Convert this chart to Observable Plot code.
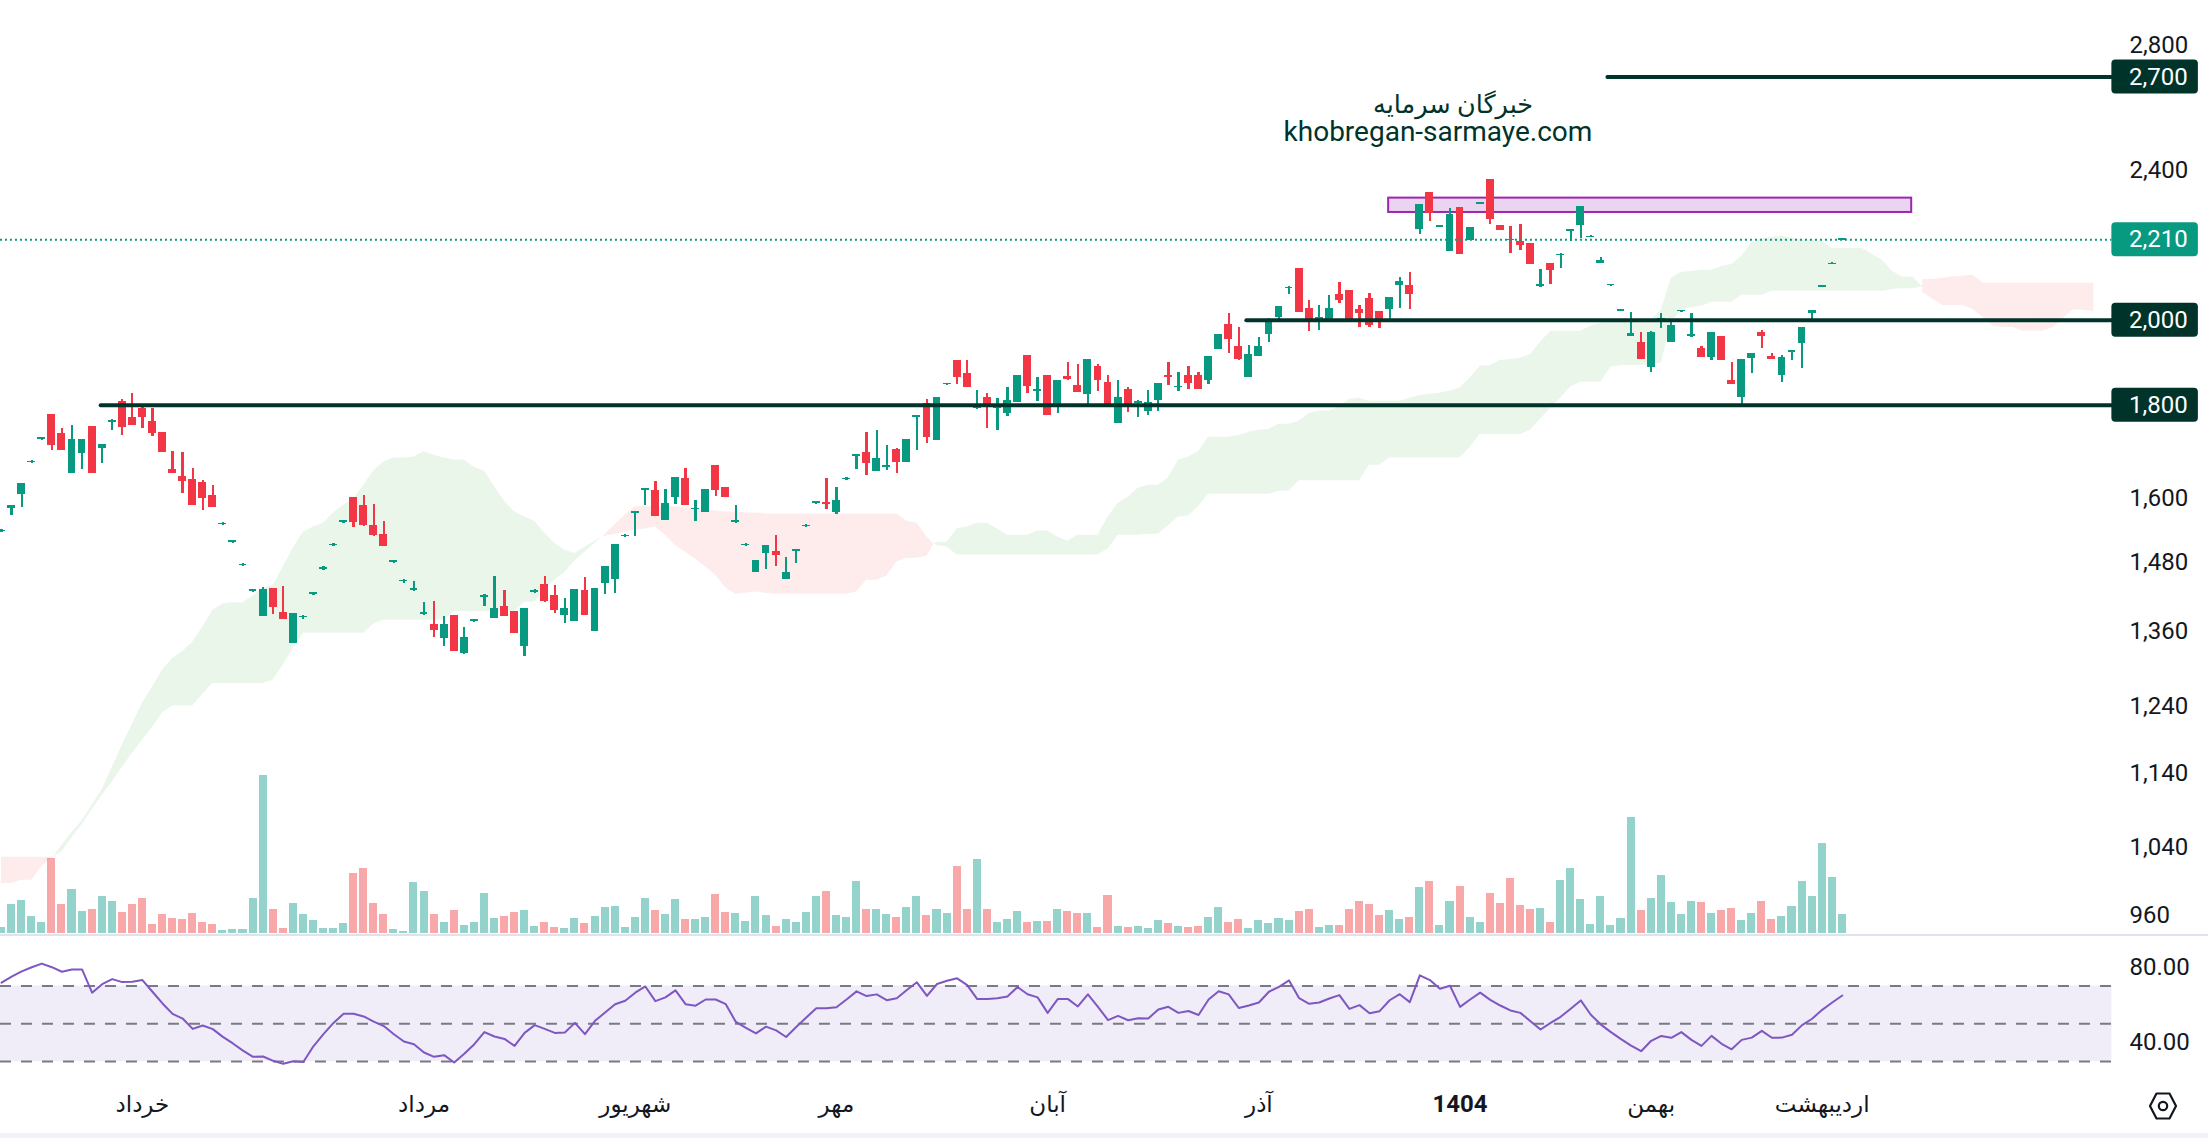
<!DOCTYPE html>
<html>
<head>
<meta charset="utf-8">
<script src="https://cdn.jsdelivr.net/npm/d3@7"></script>
<script src="https://cdn.jsdelivr.net/npm/@observablehq/plot@0.6"></script>
<style>
html,body{margin:0;padding:0;background:#fff}
#chart{position:relative;width:2208px;height:1138px;overflow:hidden;font-family:Roboto,"DejaVu Sans",sans-serif}
#chart svg{position:absolute;left:0;background:transparent;font-family:Roboto,"DejaVu Sans",sans-serif}
.sep{position:absolute;left:0;width:2208px;background:#E0E3EB}
</style>
</head>
<body>
<div id="chart"></div>
<script>
const opens=[1539,1584,1612,1676,1726,1780,1739,1655,1696,1754,1706,1761,1809,1774,1793,1765,1741,1663,1647,1641,
1635,1610,1552,1519,1475,1429,1386,1435,1393,1340,1383,1424,1469,1512,1557,1606,1589,1550,1533,1481,
1446,1430,1388,1372,1348,1387,1324,1377,1419,1382,1403,1394,1335,1428,1442,1421,1387,1376,1431,1359,
1444,1451,1529,1574,1620,1620,1561,1606,1643,1581,1575,1671,1626,1556,1512,1463,1497,1502,1451,1502,
1548,1594,1596,1575,1641,1690,1698,1659,1667,1704,1676,1774,1804,1724,1846,1903,1873,1792,1818,1793,
1782,1807,1915,1830,1868,1802,1866,1845,1825,1889,1852,1760,1836,1803,1787,1811,1868,1839,1868,1868,
1857,1929,1990,1936,1864,1913,1965,2007,2080,2133,2030,2003,2002,2065,2076,2027,2055,2022,2027,2089,
2087,2239,2344,2245,2178,2301,2209,2310,2382,2250,2212,2204,2201,2085,2146,2166,2232,2250,2217,2147,
2087,2023,1961,1946,1887,1998,1946,2021,1959,1932,1910,1961,1855,1818,1908,1970,1913,1868,1921,1944,
2017,2084,2144,2209];
const highs=[1543,1589,1633,1680,1730,1780,1749,1756,1726,1754,1715,1768,1813,1827,1798,1793,1741,1700,1698,1665,
1639,1630,1556,1523,1479,1433,1436,1435,1438,1391,1387,1428,1473,1516,1561,1606,1610,1592,1559,1485,
1450,1447,1409,1412,1386,1387,1367,1381,1423,1456,1431,1394,1400,1432,1456,1440,1416,1433,1454,1435,
1473,1515,1533,1578,1624,1637,1622,1645,1665,1600,1622,1671,1626,1590,1516,1485,1512,1532,1491,1506,
1552,1598,1643,1626,1645,1694,1741,1745,1713,1706,1726,1778,1813,1818,1850,1903,1903,1834,1827,1816,
1841,1868,1915,1862,1868,1857,1898,1894,1905,1894,1868,1855,1839,1811,1834,1850,1898,1875,1889,1875,
1913,1965,2017,1982,1939,1958,2005,2035,2085,2133,2050,2037,2063,2097,2076,2037,2068,2022,2058,2110,
2123,2309,2344,2249,2298,2301,2244,2314,2382,2250,2247,2253,2201,2131,2146,2172,2238,2304,2222,2162,
2091,2027,2020,1970,1973,2017,2000,2025,2017,1936,1970,1961,1898,1905,1920,1975,1920,1915,1927,1982,
2025,2088,2148,2213];
const lows=[1537,1571,1585,1674,1724,1702,1702,1655,1663,1655,1674,1745,1734,1756,1749,1732,1698,1655,1614,1590,
1579,1585,1550,1517,1473,1427,1386,1389,1381,1340,1381,1422,1467,1510,1555,1546,1548,1529,1510,1479,
1444,1429,1387,1350,1335,1326,1322,1375,1403,1382,1386,1357,1319,1426,1410,1391,1374,1376,1387,1359,
1424,1426,1527,1530,1589,1569,1561,1592,1590,1559,1575,1608,1606,1555,1510,1463,1469,1473,1451,1479,
1546,1592,1581,1573,1639,1663,1649,1659,1661,1655,1676,1702,1717,1724,1844,1848,1841,1791,1749,1745,
1776,1807,1827,1809,1778,1782,1855,1829,1796,1832,1798,1760,1783,1774,1778,1787,1845,1832,1836,1836,
1848,1929,1920,1903,1864,1913,1946,1995,2065,2020,1973,1975,1998,2042,1998,1982,1982,1980,2002,2030,
2027,2225,2261,2243,2178,2170,2209,2308,2253,2236,2173,2181,2143,2084,2092,2133,2206,2214,2215,2146,
2085,2021,1960,1905,1875,1980,1946,2019,1958,1910,1903,1903,1848,1802,1873,1932,1905,1852,1903,1885,
2000,2082,2142,2207];
const closes=[1542,1589,1633,1679,1729,1713,1702,1726,1726,1655,1715,1767,1751,1756,1774,1739,1698,1655,1637,1590,
1604,1585,1555,1522,1478,1432,1433,1401,1381,1391,1386,1427,1472,1515,1560,1557,1550,1531,1510,1484,
1449,1434,1392,1362,1371,1326,1350,1380,1422,1400,1386,1357,1400,1431,1412,1396,1400,1433,1387,1435,
1473,1515,1532,1577,1623,1569,1594,1645,1590,1584,1622,1620,1606,1560,1515,1484,1512,1495,1463,1505,
1551,1597,1592,1600,1644,1693,1674,1686,1670,1676,1726,1777,1730,1818,1849,1862,1841,1796,1796,1802,
1811,1868,1843,1835,1778,1857,1859,1829,1905,1857,1798,1818,1796,1809,1807,1850,1862,1843,1850,1836,
1913,1965,1953,1905,1917,1936,1995,2035,2084,2020,1995,2007,2030,2050,1998,2017,1988,1998,2058,2099,
2066,2309,2284,2248,2281,2170,2244,2313,2267,2236,2209,2195,2143,2091,2128,2171,2237,2304,2220,2153,
2090,2026,1967,1905,1970,2004,1988,2024,1965,1910,1970,1903,1848,1905,1920,1961,1905,1910,1926,1982,
2025,2087,2147,2213];
const volumes=[18,87,99,51,33,225,87,132,66,72,111,96,63,87,105,27,57,45,42,60,
33,27,9,12,12,105,474,72,15,90,57,39,15,15,30,180,195,90,57,12,
6,153,126,57,33,69,24,33,120,45,51,63,69,21,33,18,15,45,30,51,
78,81,18,48,105,69,57,102,42,42,48,117,63,60,36,111,54,21,42,33,
63,111,126,54,48,156,72,72,57,48,78,111,54,72,60,201,72,222,72,33,
42,66,33,36,36,72,66,60,60,18,114,21,18,21,15,39,30,21,18,21,
48,78,33,42,15,39,30,45,39,66,72,18,24,24,72,96,87,54,69,42,
48,138,156,24,96,141,48,33,120,90,165,84,72,75,33,159,195,102,27,111,
24,45,348,69,105,174,93,57,96,93,60,69,75,39,60,96,42,51,81,156,
111,270,168,57];
const rsi=[71.8,75,77.8,80,81.9,80,77.6,78.8,78.8,66.5,71,73.7,72.1,72.3,73.2,67,60.8,55.3,52.8,47.3,
49.1,47.2,43.1,39.6,35.8,32.5,32.7,30.4,28.8,30.2,29.8,38.1,44.5,50.5,55.3,55.3,53.9,51.2,48.8,44.5,
40.6,39.2,34.8,32.5,33.4,29.5,34.1,39.2,45.6,43.3,42,38.3,45.2,49.3,47.3,45.2,45.4,50.5,44.5,51.6,
56,60.4,62.2,66.5,69.8,62,64,67.7,60.4,59.6,62.9,62.9,60.4,51,47.8,44.9,48.5,46.5,43,48.3,
53.3,58.3,58.3,58.8,62.9,67.2,64.7,65.6,62.5,63.6,67.9,72,64.8,71.1,72.8,74.1,70.5,63.1,63.2,63.6,
64.5,69.5,65.7,64,55.8,63.1,63.2,59.2,65.6,59,52,54.2,51.9,52.9,52.8,57.6,59,55.8,56.8,54.7,
62.9,67.3,65.6,58.4,59.7,61.3,67,69.6,73,63.6,60.6,61.3,63.4,65.2,57.9,59.9,55.6,56.7,62.5,65.7,
61.5,75.7,73.2,68.6,70.2,59,62.9,66.5,62.7,59.7,57.1,55.8,51.4,47,50.5,53.7,58,62.4,54.8,49.6,
45.6,41.9,38.5,35.5,41,43.6,42.6,45.6,41.5,38.3,43.6,39.4,36.5,41.5,42.7,46.3,42.6,42.7,44.2,49.3,
52.7,57.4,61.3,65];

// Ichimoku cloud, one run per colour: [start crossing, ...bars..., end crossing]
const cloudUp0=[1028,1028,1028,1028,1028,1028];
const cloudLo0=[995,995,999,999,1016,1028];
const cloudUp1=[1028,1043,1060,1075,1096,1118,1149,1181,1212,1244,1269,1296,1315,1326,1342,1367,1396,1407,1409,1409,1421,1435,1440,1473,1508,1538,1548,1555,1575,1590,1602,1630,1659,1678,1686,1686,1688,1700,1692,1686,1682,1682,1667,1659,1628,1598,1577,1567,1559,1536,1517,1504,1498,1510,1521,1529];
const cloudLo1=[1028,1035,1053,1070,1090,1110,1128,1149,1169,1188,1207,1229,1240,1240,1240,1258,1275,1275,1275,1275,1275,1275,1280,1304,1331,1357,1357,1357,1357,1357,1357,1357,1372,1379,1379,1379,1379,1379,1379,1379,1394,1394,1394,1394,1394,1394,1394,1410,1410,1431,1449,1463,1484,1500,1517,1529];
const cloudUp2=[1529,1534,1552,1571,1587,1587,1587,1587,1587,1585,1583,1581,1579,1577,1577,1575,1575,1573,1573,1573,1573,1573,1573,1573,1573,1573,1573,1573,1573,1573,1573,1559,1555,1529,1515];
const cloudLo2=[1529,1530,1534,1538,1542,1544,1548,1532,1513,1500,1487,1473,1458,1435,1424,1426,1428,1426,1424,1424,1424,1424,1424,1424,1424,1424,1428,1449,1449,1456,1482,1489,1489,1493,1515];
const cloudUp3=[1515,1519,1519,1544,1548,1555,1555,1544,1532,1532,1532,1540,1540,1529,1521,1532,1532,1532,1567,1594,1606,1624,1630,1630,1645,1682,1688,1700,1730,1730,1730,1734,1741,1745,1747,1758,1758,1765,1782,1787,1787,1796,1813,1816,1809,1809,1809,1809,1816,1822,1825,1827,1832,1839,1862,1889,1891,1903,1905,1908,1917,1946,1973,1973,1973,1973,1985,1993,1995,1998,2000,2000,2000,2025,2107,2123,2125,2128,2128,2138,2143,2165,2201,2212,2217,2220,2214,2209,2209,2206,2186,2186,2186,2186,2170,2154,2125,2110,2110,2084];
const cloudLo3=[1515,1513,1510,1495,1495,1495,1495,1495,1495,1495,1495,1495,1495,1495,1495,1495,1495,1495,1506,1532,1532,1532,1534,1534,1550,1567,1569,1587,1612,1612,1612,1612,1612,1612,1612,1618,1618,1639,1639,1639,1639,1639,1639,1639,1671,1671,1686,1686,1686,1686,1686,1686,1686,1686,1708,1736,1736,1736,1736,1736,1745,1769,1793,1816,1841,1852,1852,1852,1887,1891,1891,1891,1894,1896,1993,2025,2032,2035,2045,2045,2045,2063,2063,2063,2073,2073,2073,2073,2073,2073,2073,2073,2073,2073,2073,2073,2078,2080,2080,2084];
const cloudUp4=[2084,2104,2104,2107,2110,2112,2115,2094,2094,2094,2094,2094,2094,2094,2094,2094,2094,2094];
const cloudLo4=[2084,2071,2053,2037,2037,2037,2027,2007,1985,1982,1982,1973,1973,1973,1982,2005,2027,2022];

const crossings=[5.1,59.75,92.7,191];
const priceTickPositions=[2812,2409,1603,1482,1360,1240,1140,1040,956];
const priceTickLabels=["2,800","2,400","1,600","1,480","1,360","1,240","1,140","1,040","960"];
const levelValues=[2704,2210,2000,1800];
const levelLabels=["2,700","2,210","2,000","1,800"];
const levelColors=["#00332A","#089981","#00332A","#00332A"];
const levelStarts=[159.7,null,123.8,9.9];
const zoneHigh=2327, zoneLow=2286, zoneStart=137.9, zoneEnd=189.9;
const monthIdx=[14,42,63,83,104,125,164,181];
const monthNames=["خرداد","مرداد","شهریور","مهر","آبان","آذر","بهمن","اردیبهشت"];
const yearIdx=145, yearLabel="1404";
const brandFa="خبرگان سرمایه", brandEn="khobregan-sarmaye.com";

const GREEN="#089981", RED="#F23645", DARK="#00332A", TEXT="#131722";
const PANE_END=209.8, LEFT=-0.11;
const xScale={domain:[0,183],range:[1.07,1841.8],axis:null};

const bars=opens.map((o,i)=>({i,o,h:highs[i],l:lows[i],c:closes[i],v:volumes[i],up:closes[i]>=o}));
const run=(ups,los,start,end)=>ups.map((u,k)=>({x:k===0?start:(k===ups.length-1?end:Math.ceil(start)+k-1),u,lo:los[k]}));
const cloudRed=[run(cloudUp0,cloudLo0,0,crossings[0]),run(cloudUp2,cloudLo2,crossings[1],crossings[2]),run(cloudUp4,cloudLo4,crossings[3],208)];
const cloudGreen=[run(cloudUp1,cloudLo1,crossings[0],crossings[1]),run(cloudUp3,cloudLo3,crossings[2],crossings[3])];
cloudRed[0].forEach((d,k)=>{d.x=k<5?k:crossings[0]});
const levels=levelValues.map((v,k)=>({v,label:levelLabels[k],color:levelColors[k],start:levelStarts[k]}));
const solidLevels=levels.filter(d=>d.start!==null);
const rows=rsi.map((v,i)=>({i,v}));

const chart=document.getElementById("chart");
function place(svg,top){svg.style.top=top+"px";chart.appendChild(svg)}

// volume, under the price pane
place(Plot.plot({width:2208,height:934,margin:0,marginRight:96,style:{background:"transparent"},
  x:xScale,y:{domain:[0,474],range:[933,775],axis:null},
  marks:[
    Plot.rectY(bars,{x1:d=>d.i-0.4,x2:d=>d.i+0.4,y1:()=>0,y2:"v",fill:d=>d.up?"#93D3CB":"#F9A8AA",shapeRendering:"crispEdges"})
  ]}),0);

// price pane
place(Plot.plot({width:2208,height:934,margin:0,marginRight:96,style:{background:"transparent"},
  x:xScale,y:{type:"log",domain:[934,2973],range:[934,0],axis:null},
  marks:[
    ...cloudRed.map(s=>Plot.areaY(s,{x:"x",y1:"lo",y2:"u",fill:"rgba(242,54,69,0.1)"})),
    ...cloudGreen.map(s=>Plot.areaY(s,{x:"x",y1:"lo",y2:"u",fill:"rgba(76,175,80,0.115)"})),
    Plot.rect([0],{x1:()=>zoneStart,x2:()=>zoneEnd,y1:()=>zoneLow,y2:()=>zoneHigh,fill:"#EBD4EF",stroke:"#9C27B0",strokeWidth:2}),
    Plot.ruleX(bars,{x:"i",y1:"l",y2:"h",stroke:d=>d.up?GREEN:RED,strokeWidth:2.3,shapeRendering:"crispEdges"}),
    Plot.rect(bars,{x1:d=>d.i-0.39,x2:d=>d.i+0.39,y1:"o",y2:"c",fill:d=>d.up?GREEN:RED,shapeRendering:"crispEdges"}),
    Plot.ruleY([levelValues[1]],{x1:()=>LEFT,x2:()=>PANE_END,y:d=>d,stroke:GREEN,strokeWidth:2,strokeDasharray:"2 3"}),
    Plot.ruleY(solidLevels,{x1:"start",x2:()=>PANE_END,y:"v",stroke:DARK,strokeWidth:4,strokeLinecap:"round"}),
    Plot.rect(levels,{x1:()=>PANE_END,x2:()=>218.4,y1:"v",y2:"v",insetTop:-17,insetBottom:-17,rx:4,fill:"color"}),
    Plot.text(levels,{x:()=>211.5,y:"v",text:"label",fill:"#fff",fontSize:24,textAnchor:"start"}),
    Plot.axisY(priceTickPositions,{anchor:"right",tickSize:0,tickPadding:17,tickFormat:d=>priceTickLabels[priceTickPositions.indexOf(d)],label:null,fontSize:24,color:TEXT,fill:TEXT}),
    Plot.text([brandFa],{x:()=>144.3,y:()=>2613,text:d=>d,fontSize:25.5,fill:DARK}),
    Plot.text([brandEn],{x:()=>142.8,y:()=>2525,text:d=>d,fontSize:28,fill:DARK})
  ]}),0);

// separators
for(const [top,h,c] of [[934,2,"#E0E3EB"],[1133,5,"#F0F3FA"]]){
  const d=document.createElement("div");d.className="sep";d.style.top=top+"px";d.style.height=h+"px";d.style.background=c;chart.appendChild(d);
}

// RSI pane
place(Plot.plot({width:2208,height:145,margin:0,marginRight:96,style:{background:"transparent"},
  x:xScale,y:{domain:[20,95],range:[142.95,1.39],axis:null},
  marks:[
    Plot.rect([0],{x1:()=>LEFT,x2:()=>PANE_END,y1:()=>30,y2:()=>70,fill:"rgba(126,87,194,0.115)"}),
    Plot.ruleY([70,50,30],{x1:()=>LEFT,x2:()=>PANE_END,y:d=>d,stroke:"#787B86",strokeWidth:2,strokeDasharray:"11 10"}),
    Plot.lineY(rows,{x:"i",y:"v",stroke:"#7E57C2",strokeWidth:2,curve:"linear"}),
    Plot.axisY([80,40],{anchor:"right",tickSize:0,tickPadding:17,tickFormat:".2f",label:null,fontSize:24,color:TEXT,fill:TEXT})
  ]}),937);

// time axis
place(Plot.plot({width:2208,height:56,margin:0,marginRight:96,style:{background:"transparent"},
  x:xScale,
  marks:[
    Plot.text(monthIdx,{x:d=>d,text:(d,k)=>monthNames[k],frameAnchor:"middle",fontSize:23,fill:TEXT}),
    Plot.text([yearIdx],{x:d=>d,text:()=>yearLabel,frameAnchor:"middle",fontSize:24,fontWeight:700,fill:TEXT})
  ]}),1076);

// settings glyph
const ns="http://www.w3.org/2000/svg";
const g=document.createElementNS(ns,"svg");
g.setAttribute("width",32);g.setAttribute("height",30);g.setAttribute("viewBox","0 0 32 30");
g.style.left="2147px";g.style.top="1091px";
g.innerHTML='<path d="M9.5 2.5H22.5L29 15L22.5 27.5H9.5L3 15Z" fill="none" stroke="#131722" stroke-width="2.2" stroke-linejoin="round"/><circle cx="16" cy="15" r="4.2" fill="none" stroke="#131722" stroke-width="2.2"/>';
chart.appendChild(g);
</script>
</body>
</html>
